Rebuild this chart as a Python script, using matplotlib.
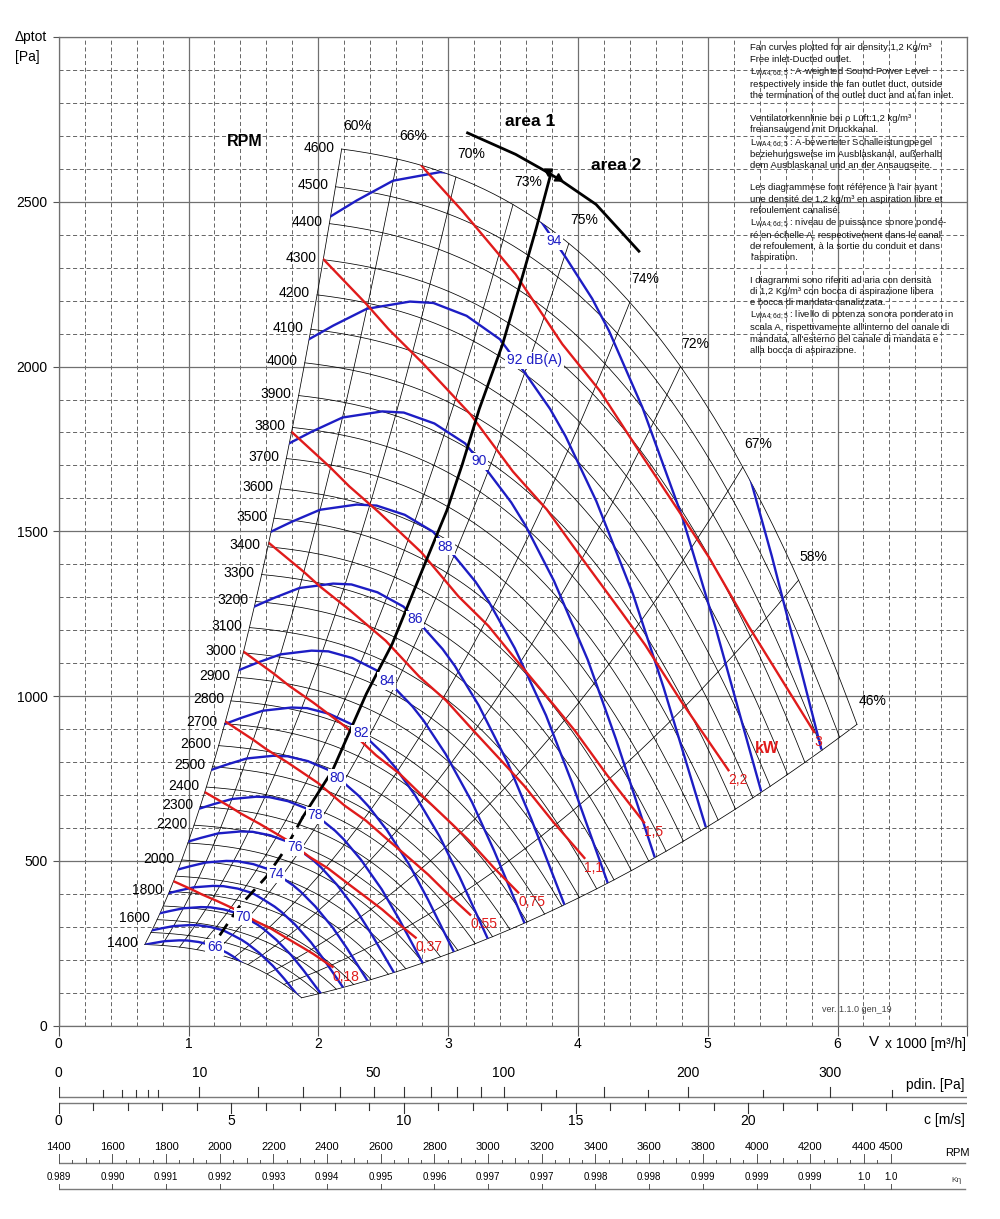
import numpy as np
import matplotlib.pyplot as plt
from matplotlib.patches import Polygon

plt.rcParams['font.family'] = ['Liberation Sans', 'DejaVu Sans']
plt.rcParams['mathtext.fontset'] = 'custom'
plt.rcParams['mathtext.rm'] = 'Liberation Sans'
plt.rcParams['mathtext.it'] = 'Liberation Sans:italic'
plt.rcParams['mathtext.bf'] = 'Liberation Sans:bold'

W, H = 1000, 1219

# ---- values (V in 1000 m3/h, pressure in Pa) ----
# fan curve at the highest speed
top_rpm = 4600
top_V = [2.18, 2.61, 2.96, 3.19, 3.50, 3.86, 4.14, 4.40, 4.79, 5.01, 5.27, 5.40, 5.70, 5.86, 6.15]
top_p = [2671, 2626, 2583, 2532, 2482, 2411, 2330, 2199, 2007, 1865, 1684, 1593, 1330, 1209, 931]

rpm_lines = [1400, 1500, 1600, 1700, 1800, 1900, 2000, 2100, 2200, 2300, 2400, 2500,
             2600, 2700, 2800, 2900, 3000, 3100, 3200, 3300, 3400, 3500, 3600, 3700,
             3800, 3900, 4000, 4100, 4200, 4300, 4400, 4500, 4600]
rpm_labels = [1400, 1600, 1800, 2000, 2200, 2300, 2400, 2500, 2600, 2700, 2800, 2900,
              3000, 3100, 3200, 3300, 3400, 3500, 3600, 3700, 3800, 3900, 4000, 4100,
              4200, 4300, 4400, 4500, 4600]

# efficiency lines: where they meet the 4600 RPM curve
eff_V = [2.18, 2.61, 3.06, 3.50, 3.93, 4.40, 4.79, 5.27, 5.70, 6.15]
eff_txt = ['60%', '66%', '70%', '73%', '75%', '74%', '72%', '67%', '58%', '46%']

# sound power curve 94 dB(A); the others follow the speed law
snd_ref = 94
snd_V = [2.088, 2.296, 2.576, 2.938, 3.134, 3.412, 3.691, 3.905, 4.110, 4.24, 4.497, 4.805, 5.06, 5.41]
snd_p = [2454, 2504, 2564, 2590, 2585, 2539, 2455, 2332, 2206, 2108, 1876, 1542, 1209, 714]
snd_levels = [66, 68, 70, 72, 74, 76, 78, 80, 82, 84, 86, 88, 90, 92, 94, 96]
snd_txt = {66: '66', 70: '70', 74: '74', 76: '76', 78: '78', 80: '80', 82: '82',
           84: '84', 86: '86', 88: '88', 90: '90', 92: '92 dB(A)', 94: '94'}
snd_db_decade = 56

# absorbed power curve 3 kW; the others follow the cube law
kw_ref = 3.0
kw_V = [2.25, 2.63, 2.82, 3.11, 3.52, 3.88, 4.17, 4.47, 4.81, 5.01, 5.32, 5.82]
kw_p = [2865, 2692, 2598, 2472, 2280, 2068, 1926, 1744, 1542, 1421, 1209, 891]
kw_values = [0.18, 0.37, 0.55, 0.75, 1.1, 1.5, 2.2, 3.0]
kw_txt = ['0,18', '0,37', '0,55', '0,75', '1,1', '1,5', '2,2', '3']
kw_end_V = [2.11, 2.75, 3.17, 3.54, 4.05, 4.51, 5.16, 5.82]

# best efficiency line and area 1 / area 2 border
opt_V = [1.24, 1.39, 1.60, 1.74, 1.88, 2.11, 2.37, 2.57, 2.81, 2.99, 3.11, 3.24, 3.42, 3.57, 3.68, 3.79]
opt_p = [274, 361, 452, 532, 633, 775, 1007, 1159, 1391, 1563, 1704, 1871, 2068, 2270, 2421, 2583]
area_V = [3.15, 3.52, 3.75, 3.88, 4.14, 4.47]
area_p = [2709, 2644, 2593, 2562, 2492, 2350]

# bottom scales
pdin_labels = [0, 10, 50, 100, 200, 300]
pdin_ticks = [1, 2, 3, 4, 5, 10, 20, 30, 40, 50, 60, 70, 80, 90, 100, 125, 150, 175, 200, 250, 300, 350]
c_labels = [0, 5, 10, 15, 20]
rpm_scale = [1400, 1600, 1800, 2000, 2200, 2400, 2600, 2800, 3000, 3200, 3400, 3600,
             3800, 4000, 4200, 4400, 4500]
k_eta = ['0.989', '0.990', '0.991', '0.992', '0.993', '0.994', '0.995', '0.996', '0.997',
         '0.997', '0.998', '0.998', '0.999', '0.999', '0.999', '1.0', '1.0']

LW = r'L$_{\mathrm{WA4;6d;5}}$'
notes = [
    (47.7, 'Fan curves plotted for air density:1,2 Kg/m\u00b3'),
    (59.3, 'Free inlet-Ducted outlet.'),
    (72.3, LW + ' : A-weighted Sound Power Level'),
    (84.3, 'respectively inside the fan outlet duct, outside'),
    (95.7, 'the termination of the outlet duct and at fan inlet.'),
    (118.3, 'Ventilatorkennlinie bei \u03c1 L\u00fcft:1,2 kg/m\u00b3'),
    (129.3, 'freiansaugend mit Druckkanal.'),
    (143.3, LW + ' : A-bewerteter Schalleistungpegel'),
    (154.3, 'beziehungsweise im Ausblaskanal, au\u00dferhalb'),
    (165.0, 'dem Ausblaskanal und an der Ansaugseite.'),
    (187.7, 'Les diagrammese font r\u00e9f\u00e9rence \u00e0 l\'air ayant'),
    (199.0, 'une densit\u00e9 de 1,2 kg/m\u00b3 en aspiration libre et'),
    (210.7, 'refoulement canalis\u00e9.'),
    (223.3, LW + ' : niveau de puissance sonore pond\u00e9-'),
    (235.0, 'r\u00e9 en \u00e9chelle A, respectivement dans le canal'),
    (246.7, 'de refoulement, \u00e0 la sortie du conduit et dans'),
    (257.7, 'l\'aspiration.'),
    (280.7, 'I diagrammi sono riferiti ad aria con densit\u00e0'),
    (291.7, 'di 1,2 Kg/m\u00b3 con bocca di aspirazione libera'),
    (302.7, 'e bocca di mandata canalizzata.'),
    (315.7, LW + ' : livello di potenza sonora ponderato in'),
    (327.7, 'scala A, rispettivamente all\'interno del canale di'),
    (339.0, 'mandata, all\'esterno del canale di mandata e'),
    (350.7, 'alla bocca di aspirazione.'),
]

BLUE = '#1d1dc4'
RED = '#e01b1b'
GRID = '#5a5a5a'


def fx(x):
    return x / W


def fy(y):
    return 1 - y / H


fig = plt.figure(figsize=(W / 100, H / 100), dpi=100)
ax = fig.add_axes([fx(58.7), fy(1025.7), 908.6 / W, 988.7 / H])
ax.set_xlim(0, 7)
ax.set_ylim(0, 3000)

# grid
ax.set_xticks(np.arange(0, 8, 1))
ax.set_xticks(np.arange(0, 7.01, 0.2), minor=True)
ax.set_yticks(np.arange(0, 3001, 500))
ax.set_yticks(np.arange(0, 3001, 100), minor=True)
ax.set_xticklabels(['0', '1', '2', '3', '4', '5', '6', ''])
ax.set_yticklabels(['0', '500', '1000', '1500', '2000', '2500', ''])
ax.grid(which='major', color='#707070', lw=0.9)
ax.grid(which='minor', color=GRID, lw=0.65, ls=(0, (4.5, 3)))
ax.set_axisbelow(True)
ax.tick_params(axis='x', which='major', length=7, pad=1, labelsize=10, color='#555')
ax.tick_params(axis='y', which='major', length=4, pad=4, labelsize=10, color='#555')
ax.tick_params(which='minor', length=0)
for s in ax.spines.values():
    s.set_color('#707070')
    s.set_linewidth(0.9)

# fan curves by the affinity laws
coef = np.polyfit(top_V, top_p, 3)
u = np.linspace(top_V[0], top_V[-1], 160)
fan = np.polyval(coef, u)
ratios = np.array(rpm_lines) / top_rpm

for r in ratios:
    ax.plot(u * r, fan * r ** 2, color='k', lw=0.55, zorder=2)

lo, hi = ratios[0], ratios[-1]
outline = np.vstack([
    np.column_stack([u * lo, fan * lo ** 2]),
    np.column_stack([u[-1] * ratios, fan[-1] * ratios ** 2]),
    np.column_stack([u * hi, fan * hi ** 2])[::-1],
    np.column_stack([u[0] * ratios, fan[0] * ratios ** 2])[::-1],
])
domain = Polygon(outline, closed=True, transform=ax.transData)

for n in rpm_labels:
    r = n / top_rpm
    ax.annotate(str(n), (u[0] * r, fan[0] * r ** 2), xytext=(-5, 1),
                textcoords='offset points', ha='right', va='center', fontsize=10)

# efficiency lines
for v, t in zip(eff_V, eff_txt):
    pe = np.polyval(coef, v)
    ax.plot(v * ratios, pe * ratios ** 2, color='k', lw=0.55, zorder=2)
    ax.annotate(t, (v, pe), xytext=(11, 16.5), textcoords='offset points',
                ha='center', va='center', fontsize=10)

# sound power curves
for L in snd_levels:
    s = 10 ** ((L - snd_ref) / snd_db_decade)
    ln, = ax.plot(np.array(snd_V) * s, np.array(snd_p) * s ** 2, color=BLUE, lw=1.7, zorder=3)
    ln.set_clip_path(domain)
    if L in snd_txt:
        ax.annotate(snd_txt[L], (3.82 * s, 2380 * s ** 2), xytext=(-6, 0),
                    textcoords='offset points', ha='left', va='center', fontsize=10,
                    color=BLUE, zorder=6,
                    bbox=dict(boxstyle='square,pad=0.12', fc='white', ec='none'))

# absorbed power curves
for kw, t, vend in zip(kw_values, kw_txt, kw_end_V):
    s = (kw / kw_ref) ** (1 / 3)
    vv = np.array(kw_V) * s
    pp = np.array(kw_p) * s ** 2
    keep = vv < vend
    pend = np.interp(vend, vv, pp)
    ln, = ax.plot(np.append(vv[keep], vend), np.append(pp[keep], pend), color=RED, lw=1.7, zorder=3)
    ln.set_clip_path(domain)
    ax.annotate(t, (vend, pend), xytext=(0, -2), textcoords='offset points',
                ha='left', va='top', fontsize=10, color=RED, zorder=6)
ax.text(5.456, 842, 'kW', color=RED, fontsize=11.5, fontweight='bold', ha='center', va='center')

# best efficiency line
ax.plot(opt_V[:5], opt_p[:5], color='k', lw=2.0, ls=(0, (5, 3)), zorder=4)
ax.plot(opt_V[4:], opt_p[4:], color='k', lw=2.0, zorder=4)

# area border
ax.plot(area_V, area_p, color='k', lw=2.0, zorder=4)
ax.plot([3.768], [2592], marker=(3, 0, 59), ms=7, color='k', zorder=5)
ax.plot([3.848], [2573], marker=(3, 0, -121), ms=7, color='k', zorder=5)

fig.text(fx(530), fy(121), 'area 1', fontsize=12.5, fontweight='bold', ha='center', va='center')
fig.text(fx(616), fy(165), 'area 2', fontsize=12.5, fontweight='bold', ha='center', va='center')
fig.text(fx(245), fy(142), 'RPM', fontsize=11.5, fontweight='bold', ha='center', va='center')

# axis titles
fig.text(fx(15), fy(37), '\u0394ptot', fontsize=10, va='center')
fig.text(fx(15), fy(57), '[Pa]', fontsize=10, va='center')
fig.text(fx(966), fy(1044), 'x 1000 [m\u00b3/h]', fontsize=10, ha='right', va='center')
fig.text(fx(879), fy(1042), 'V', fontsize=11, ha='right', va='center')
fig.text(fx(857), fy(1010), 'ver. 1.1.0 gen_19', fontsize=6.5, color='#444', ha='center', va='center')

for y, t in notes:
    fig.text(fx(750), fy(y), t, fontsize=6.8, va='center', color='#111')

# ---- bottom scales ----
sc = fig.add_axes([fx(58.7), 0, 908.6 / W, (H - 1040) / H])
sc.set_xlim(0, 7)
sc.set_ylim(H, 1040)
sc.axis('off')

duct_area = 0.0738  # m2


def c_to_V(c):
    return np.asarray(c, dtype=float) * duct_area * 3.6


def pdin_to_V(pd):
    return c_to_V(np.sqrt(np.asarray(pd, dtype=float) / 0.6))


def rpm_to_V(n):
    return (np.asarray(n, dtype=float) - 1400) * 6.41 / 3100


narrow = ['Liberation Sans Narrow', 'Liberation Sans']
LC = '#7a7a7a'

# dynamic pressure
sc.plot([0, 7], [1096.7, 1096.7], color=LC, lw=1.0)
long_pd = {10, 20, 30, 40, 50, 60, 70, 80, 90, 100, 150, 200, 300}
for pd in pdin_ticks:
    top = 1087 if pd in long_pd else 1090
    sc.plot([pdin_to_V(pd)] * 2, [1096.7, top], color='#333', lw=0.8)
sc.plot([0, 0], [1096.7, 1087], color='#333', lw=0.8)
for pd in pdin_labels:
    sc.text(pdin_to_V(pd), 1073, str(pd), fontsize=10, ha='center', va='center')
sc.text(6.98, 1085, 'pdin. [Pa]', fontsize=10, ha='right', va='center')

# velocity
sc.plot([0, 7], [1103.3, 1103.3], color=LC, lw=1.0)
for c in range(0, 25):
    bot = 1113 if c % 5 == 0 else 1110
    sc.plot([c_to_V(c)] * 2, [1103.3, bot], color='#333', lw=0.8)
for c in c_labels:
    sc.text(c_to_V(c), 1121, str(c), fontsize=10, ha='center', va='center')
sc.text(6.98, 1120, 'c [m/s]', fontsize=10, ha='right', va='center')

# speed
sc.plot([0, 6.98], [1163.3, 1163.3], color=LC, lw=1.0)
for n in range(1400, 4550, 50):
    top = 1154 if n % 200 == 0 or n == 4500 else (1157.5 if n % 100 == 0 else 1160)
    sc.plot([rpm_to_V(n)] * 2, [1163.3, top], color='#555', lw=0.7)
for n in rpm_scale:
    sc.text(rpm_to_V(n), 1146.7, str(n), fontsize=8, ha='center', va='center', family=narrow)
sc.text(6.92, 1153, 'RPM', fontsize=8, ha='center', va='center', family=narrow)

# efficiency correction
sc.plot([0, 6.98], [1189.3, 1189.3], color=LC, lw=1.0)
for n, k in zip(rpm_scale, k_eta):
    sc.plot([rpm_to_V(n)] * 2, [1189.3, 1183.5], color='#555', lw=0.7)
    sc.text(rpm_to_V(n), 1177.3, k, fontsize=7, ha='center', va='center', family=narrow)
sc.text(6.92, 1181, 'K\u03b7', fontsize=6, ha='center', va='center', color='#444')

fig.savefig('out.png', dpi=100)
